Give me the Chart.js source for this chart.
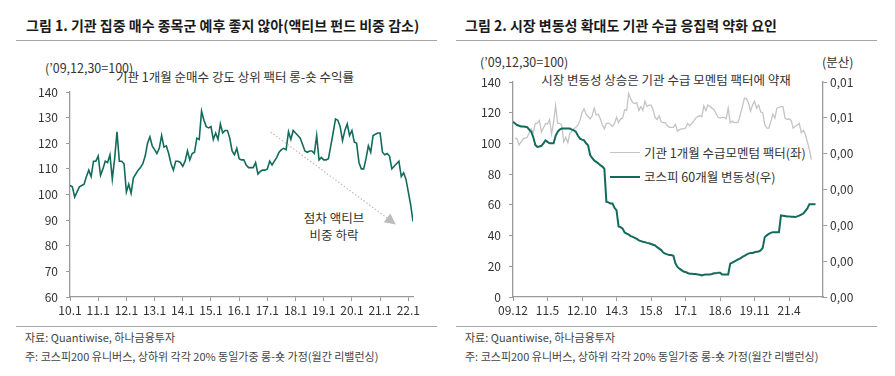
<!DOCTYPE html>
<html>
<head>
<meta charset="utf-8">
<script src="https://cdn.jsdelivr.net/npm/chart.js@4.4.0/dist/chart.umd.min.js"></script>
<style>
  body { margin: 0; background: #fff; font-family: 'Noto Sans CJK KR', 'Noto Sans', sans-serif; }
  #wrap { position: relative; width: 895px; height: 376px; overflow: hidden; }
  .title { position: absolute; top: 14px; font-weight: bold; font-size: 14px; line-height: 22px; color: #1a1a1a; white-space: nowrap; }
  .rule { position: absolute; height: 0; border-top: 1px solid #a6a6a6; }
  .note { position: absolute; font-size: 11px; line-height: 16px; color: #444; white-space: nowrap; }
  .lbl { position: absolute; font-size: 12.5px; line-height: 16px; color: #333; white-space: nowrap; }
  .swatch { position: absolute; width: 30px; height: 0; }
  canvas { position: absolute; top: 0; }
</style>
</head>
<body>
<div id="wrap">
  <div class="title" style="left:26px">그림 1. 기관 집중 매수 종목군 예후 좋지 않아(액티브 펀드 비중 감소)</div>
  <div class="title" style="left:465px">그림 2. 시장 변동성 확대도 기관 수급 응집력 약화 요인</div>
  <div class="rule" style="left:16px;width:421px;top:40px"></div>
  <div class="rule" style="left:456px;width:421px;top:40px"></div>

  <div class="lbl" style="left:45px;top:60px">(’09,12,30=100)</div>
  <div class="lbl" style="left:235px;top:69px;transform:translateX(-50%)">기관 1개월 순매수 강도 상위 팩터 롱-숏 수익률</div>
  <div class="lbl" style="left:334px;top:209px;transform:translateX(-50%);text-align:center;line-height:17px">점차 액티브<br>비중 하락</div>

  <div class="lbl" style="left:480px;top:54px">(’09,12,30=100)</div>
  <div class="lbl" style="left:822px;top:54px">(분산)</div>
  <div class="lbl" style="left:666px;top:72px;transform:translateX(-50%)">시장 변동성 상승은 기관 수급 모멘텀 팩터에 약재</div>
  <div class="swatch" style="left:610px;top:152px;border-top:1.5px solid #c4c4c4"></div>
  <div class="lbl" style="left:644px;top:145px">기관 1개월 수급모멘텀 팩터(좌)</div>
  <div class="swatch" style="left:610px;top:176px;border-top:2px solid #136b5c"></div>
  <div class="lbl" style="left:644px;top:169px">코스피 60개월 변동성(우)</div>

  <div class="rule" style="left:16px;width:421px;top:326px"></div>
  <div class="rule" style="left:456px;width:421px;top:326px"></div>
  <div class="note" style="left:25px;top:329px">자료: Quantiwise, 하나금융투자</div>
  <div class="note" style="left:25px;top:348px">주: 코스피200 유니버스, 상하위 각각 20% 동일가중 롱-숏 가정(월간 리밸런싱)</div>
  <div class="note" style="left:465px;top:329px">자료: Quantiwise, 하나금융투자</div>
  <div class="note" style="left:465px;top:348px">주: 코스피200 유니버스, 상하위 각각 20% 동일가중 롱-숏 가정(월간 리밸런싱)</div>

  <canvas id="chartLeft" width="447" height="376" style="left:0"></canvas>
  <canvas id="chartRight" width="448" height="376" style="left:447px"></canvas>
</div>

<script>
/* ---------------------------------------------
   Data.
   Monthly points, left series starts at 10.1.
   --------------------------------------------- */

// Institutional 1-month net-buy factor long-short index ('09.12.30 = 100), 10.1 .. 22.3
var factorLS = [
  103.5, 103, 99, 101, 103, 103.5, 104, 107, 109.5, 107, 113, 113, 115, 107.5, 110, 113, 112.5, 115.5, 106, 114,
  124.5, 113, 113, 112, 101, 104, 100.5, 106.5, 108, 109.5, 110.5, 112, 115, 120, 122.5, 119, 117.5, 116, 118, 123,
  118.5, 119, 116, 112, 109.5, 113, 113, 112.5, 111, 113, 117, 113.5, 116, 116.5, 122, 121.5, 132.5, 129, 126.5, 126,
  126.5, 121.5, 124, 121.5, 127.5, 124, 125, 125, 122, 117, 115.5, 118, 114, 113.5, 113.5, 111.5, 110.5, 110.5, 110.5, 112.5,
  108, 109, 109.5, 109.5, 110, 113, 111.5, 113, 114.5, 116.5, 117.5, 118, 117.5, 124.5, 121.5, 125, 124, 123, 122, 119.5,
  117, 116.5, 117, 117, 116, 123, 113.5, 114.5, 113.5, 113.5, 114, 119, 124, 129.5, 129, 126.5, 121, 125, 127.5, 123,
  125, 120.5, 120, 112.5, 110, 110, 114, 119, 116.5, 123, 123.5, 124, 124, 116.5, 115.5, 116, 115, 110, 111, 112,
  113, 107, 108.5, 106, 101, 96, 89.5
];

// KOSPI 60-month variance, 09.12 .. 22.5
var kospiVar = [
  0.00489, 0.00484, 0.00480, 0.00478, 0.00476, 0.00476, 0.00475, 0.00474, 0.00467, 0.00461,
  0.00446, 0.00424, 0.00419, 0.00420, 0.00422, 0.00429, 0.00437, 0.00433, 0.00429, 0.00429,
  0.00429, 0.00450, 0.00461, 0.00467, 0.00470, 0.00470, 0.00470, 0.00470, 0.00470, 0.00467,
  0.00465, 0.00461, 0.00450, 0.00442, 0.00439, 0.00437, 0.00429, 0.00423, 0.00396, 0.00388,
  0.00381, 0.00377, 0.00373, 0.00368, 0.00364, 0.00358, 0.00266, 0.00264, 0.00261, 0.00261,
  0.00249, 0.00242, 0.00197, 0.00195, 0.00191, 0.00180, 0.00177, 0.00174, 0.00170, 0.00168,
  0.00165, 0.00162, 0.00158, 0.00156, 0.00154, 0.00153, 0.00151, 0.00150, 0.00148, 0.00146,
  0.00144, 0.00139, 0.00135, 0.00131, 0.00124, 0.00121, 0.00119, 0.00117, 0.00117, 0.00115,
  0.00094, 0.00084, 0.00079, 0.00075, 0.00071, 0.00070, 0.00067, 0.00065, 0.00065, 0.00064,
  0.00064, 0.00063, 0.00062, 0.00060, 0.00062, 0.00063, 0.00063, 0.00063, 0.00064, 0.00066,
  0.00066, 0.00068, 0.00068, 0.00063, 0.00063, 0.00063, 0.00063, 0.00093, 0.00096, 0.00099,
  0.00102, 0.00105, 0.00108, 0.00112, 0.00115, 0.00118, 0.00121, 0.00123, 0.00123, 0.00125,
  0.00126, 0.00127, 0.00130, 0.00137, 0.00167, 0.00172, 0.00176, 0.00179, 0.00181, 0.00181,
  0.00181, 0.00181, 0.00228, 0.00227, 0.00226, 0.00225, 0.00225, 0.00224, 0.00224, 0.00223,
  0.00225, 0.00227, 0.00230, 0.00233, 0.00240, 0.00247, 0.00259, 0.00259, 0.00259, 0.00259
];

// Tick labels
var leftXTicks  = ['10.1', '11.1', '12.1', '13.1', '14.1', '15.1', '16.1', '17.1', '18.1', '19.1', '20.1', '21.1', '22.1'];
var rightXTicks = ['09.12', '11.5', '12.10', '14.3', '15.8', '17.1', '18.6', '19.11', '21.4'];
var rightYValues = [0, 0.001, 0.002, 0.003, 0.004, 0.005, 0.006];
var rightYLabels = ['0,00', '0,00', '0,00', '0,00', '0,00', '0,01', '0,01'];

// Dotted trend arrow on figure 1 (month index, index level)
var arrowFrom = [85.4, 124.4];
var arrowTo   = [138.7, 88.3];

/* --------------------------------------------- */

var teal = '#136b5c';
var grey = '#c4c4c4';
var axisColor = '#9a9a9a';
var tickFont = { family: "'Noto Sans CJK KR', sans-serif", size: 12 };

Chart.defaults.font.family = "'Noto Sans CJK KR', sans-serif";
Chart.defaults.color = '#333';

function axisGrid() {
  return { drawOnChartArea: false, drawTicks: true, tickLength: 4, color: axisColor, lineWidth: 1 };
}
function axisBorder() {
  return { display: true, color: axisColor, width: 1.3 };
}

// dotted arrow with a filled head, placed through the scales
var arrowPlugin = {
  id: 'trendArrow',
  afterDatasetsDraw: function (chart) {
    var ctx = chart.ctx, x = chart.scales.x, y = chart.scales.y;
    var x0 = x.getPixelForValue(arrowFrom[0]), y0 = y.getPixelForValue(arrowFrom[1]);
    var x1 = x.getPixelForValue(arrowTo[0]),   y1 = y.getPixelForValue(arrowTo[1]);
    var a = Math.atan2(y1 - y0, x1 - x0);
    var len = 11, half = 5.5;
    var bx = x1 - len * Math.cos(a), by = y1 - len * Math.sin(a);
    ctx.save();
    ctx.strokeStyle = '#bcbcbc';
    ctx.lineWidth = 1.2;
    ctx.setLineDash([1.5, 2]);
    ctx.beginPath();
    ctx.moveTo(x0, y0);
    ctx.lineTo(bx, by);
    ctx.stroke();
    ctx.setLineDash([]);
    ctx.fillStyle = '#bcbcbc';
    ctx.beginPath();
    ctx.moveTo(x1, y1);
    ctx.lineTo(bx + half * Math.sin(a), by - half * Math.cos(a));
    ctx.lineTo(bx - half * Math.sin(a), by + half * Math.cos(a));
    ctx.closePath();
    ctx.fill();
    ctx.restore();
  }
};

/* --- Figure 1 --- */
new Chart(document.getElementById('chartLeft'), {
  type: 'line',
  data: {
    datasets: [{
      data: factorLS.map(function (v, i) { return { x: i, y: v }; }),
      borderColor: teal,
      borderWidth: 1.6,
      pointRadius: 0,
      tension: 0
    }]
  },
  options: {
    responsive: false,
    animation: false,
    layout: { padding: { left: 0, right: 34, top: 92, bottom: 0 } },
    plugins: { legend: { display: false }, tooltip: { enabled: false } },
    scales: {
      x: {
        type: 'linear', min: 0, max: 146,
        afterBuildTicks: function (s) { s.ticks = leftXTicks.map(function (t, i) { return { value: i * 12 }; }); },
        afterFit: function (s) { s.height = 79; },
        ticks: { callback: function (v, i) { return leftXTicks[i]; }, autoSkip: false, maxRotation: 0, padding: 2, font: tickFont, color: '#333' },
        grid: axisGrid(), border: axisBorder()
      },
      y: {
        min: 60, max: 140,
        afterFit: function (s) { s.width = 70; },
        ticks: { stepSize: 10, padding: 8, font: tickFont, color: '#333' },
        grid: axisGrid(), border: axisBorder()
      }
    }
  },
  plugins: [arrowPlugin]
});

/* --- Figure 2 --- */
new Chart(document.getElementById('chartRight'), {
  type: 'line',
  data: {
    datasets: [
      {
        data: kospiVar.map(function (v, i) { return { x: i, y: v }; }),
        yAxisID: 'y1',
        borderColor: teal,
        borderWidth: 2,
        pointRadius: 0,
        tension: 0
      },
      {
        // same factor series, plotted from 10.1 (one month after 09.12)
        data: factorLS.map(function (v, i) { return { x: i + 1, y: v }; }),
        yAxisID: 'y',
        borderColor: grey,
        borderWidth: 1.3,
        pointRadius: 0,
        tension: 0
      }
    ]
  },
  options: {
    responsive: false,
    animation: false,
    layout: { padding: { left: 0, right: 0, top: 82, bottom: 0 } },
    plugins: { legend: { display: false }, tooltip: { enabled: false } },
    scales: {
      x: {
        type: 'linear', min: 0, max: 152.7,
        afterBuildTicks: function (s) { s.ticks = rightXTicks.map(function (t, i) { return { value: i * 17 }; }); },
        afterFit: function (s) { s.height = 79; },
        ticks: { callback: function (v, i) { return rightXTicks[i]; }, autoSkip: false, maxRotation: 0, padding: 2, font: tickFont, color: '#333' },
        grid: axisGrid(), border: axisBorder()
      },
      y: {
        position: 'left', min: 0, max: 140,
        afterFit: function (s) { s.width = 66; },
        ticks: { stepSize: 20, padding: 8, font: tickFont, color: '#333' },
        grid: axisGrid(), border: axisBorder()
      },
      y1: {
        position: 'right', min: 0, max: 0.006,
        afterBuildTicks: function (s) { s.ticks = rightYValues.map(function (v) { return { value: v }; }); },
        afterFit: function (s) { s.width = 72; },
        ticks: { callback: function (v, i) { return rightYLabels[i]; }, padding: 3, font: tickFont, color: '#333' },
        grid: axisGrid(), border: axisBorder()
      }
    }
  }
});
</script>
</body>
</html>
